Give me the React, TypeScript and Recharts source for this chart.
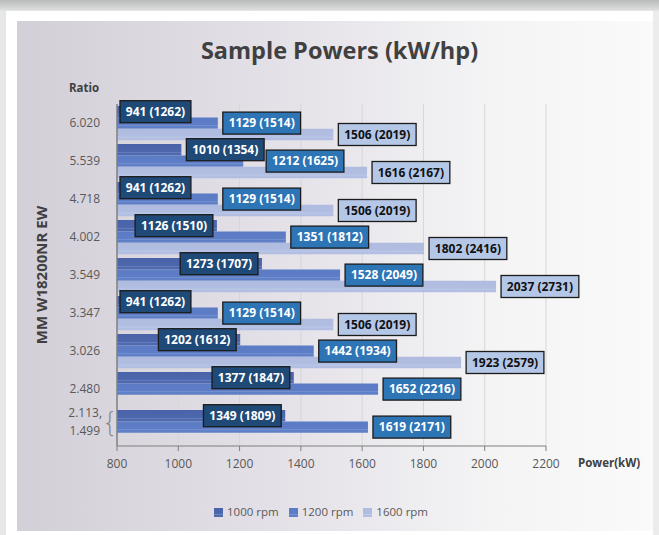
import {
  BarChart,
  Bar,
  XAxis,
  YAxis,
  CartesianGrid,
  Legend,
  LabelList,
  Label,
} from "recharts";

const ratios = ["6.020", "5.539", "4.718", "4.002", "3.549", "3.347", "3.026", "2.480", "2.113, 1.499"];
const kw1000 = [941, 1010, 941, 1126, 1273, 941, 1202, 1377, 1349];
const kw1200 = [1129, 1212, 1129, 1351, 1528, 1129, 1442, 1652, 1619];
const kw1600 = [1506, 1616, 1506, 1802, 2037, 1506, 1923, null, null];
const hp1000 = [1262, 1354, 1262, 1510, 1707, 1262, 1612, 1847, 1809];
const hp1200 = [1514, 1625, 1514, 1812, 2049, 1514, 1934, 2216, 2171];
const hp1600 = [2019, 2167, 2019, 2416, 2731, 2019, 2579, null, null];
const powerTicks = [800, 1000, 1200, 1400, 1600, 1800, 2000, 2200];

const data = ratios.map((r, i) => ({
  ratio: r,
  rpm1000: kw1000[i],
  rpm1200: kw1200[i],
  rpm1600: kw1600[i],
}));

const FONT = "'Open Sans', sans-serif";
const AXIS_MIN = 800;

// rough width of bold 12px Open Sans text
const textWidth = (s: string) => {
  let w = 0;
  for (const c of s) {
    if (c === " ") w += 3.1;
    else if (c === "(" || c === ")") w += 3.9;
    else w += 6.86;
  }
  return w;
};

const boxWidth = (kw: number, hp: number) => textWidth(`${kw} (${hp})`) + 12;

// where the 1000 rpm label box sits: inside the bar end when it fits
const box1000 = (x: number, ppu: number, i: number) => {
  const width = (kw1000[i] - AXIS_MIN) * ppu;
  const w = boxWidth(kw1000[i], hp1000[i]);
  const end = x + width;
  let bx = end + 5;
  if (width >= w + 4) bx = end - w - 4;
  else if (width < 60) bx = x + 3;
  return { bx, w };
};

const makeLabel =
  (series: "1000" | "1200" | "1600", hp: (number | null)[], fill: string, color: string) =>
  (props: any) => {
    const vb = props.viewBox && props.viewBox.width != null ? props.viewBox : props;
    const { x, y, width, height } = vb;
    const { value, index } = props;
    if (value == null || hp[index] == null) return null;
    const ppu = width / (value - AXIS_MIN);
    const text = `${value} (${hp[index]})`;
    const w = boxWidth(value, hp[index] as number);
    let bx = x + width + 5;
    if (series === "1000") {
      bx = box1000(x, ppu, index).bx;
    } else if (series === "1200") {
      const prev = box1000(x, ppu, index);
      if (prev.bx + prev.w + 2 > bx) bx = prev.bx + prev.w + 2;
    }
    const cy = y + height / 2;
    return (
      <g>
        <rect x={bx} y={cy - 11} width={w} height={22} fill={fill} stroke="#1b1b1b" strokeWidth={1.3} />
        <text
          x={bx + w / 2}
          y={cy}
          dy="0.36em"
          textAnchor="middle"
          fill={color}
          fontFamily={FONT}
          fontWeight={700}
          fontSize={12}
        >
          {text}
        </text>
      </g>
    );
  };

const RatioTick = (props: any) => {
  const { x, y, payload } = props;
  const parts = String(payload.value).split(", ");
  const style = { fontFamily: FONT, fontSize: 12, fill: "#595959" };
  if (parts.length > 1) {
    return (
      <g>
        <text x={x + 2} y={y - 14} dy="0.35em" textAnchor="end" {...style}>
          {parts[0]},
        </text>
        <text x={x} y={y + 4} dy="0.35em" textAnchor="end" {...style}>
          {parts[1]}
        </text>
        <text x={x + 10} y={y - 5} dy="0.33em" textAnchor="middle" fontFamily="DejaVu Sans" fontSize={26} fontWeight={200} fill="#8a8a8a">
          {"{"}
        </text>
      </g>
    );
  }
  return (
    <text x={x} y={y} dy="0.35em" textAnchor="end" {...style}>
      {payload.value}
    </text>
  );
};

export default function App() {
  return (
    <div
      style={{
        position: "fixed",
        left: 0,
        top: 0,
        width: 659,
        height: 535,
        overflow: "hidden",
        background: "linear-gradient(#b9bbba 0px, #d9dbda 9px, #e6e7e7 11px)",
      }}
    >
      <div style={{ position: "absolute", left: 6, top: 11, width: 647, height: 524, background: "#ffffff" }} />
      <div style={{ position: "absolute", left: 653, top: 11, width: 6, height: 524, background: "#ececec" }} />
      <div
        style={{
          position: "absolute",
          left: 17,
          top: 21,
          width: 636,
          height: 510,
          background: "linear-gradient(90deg, #d3cfd8 0%, #e3e0e7 40%, #f4f4f5 75%, #fafafa 100%)",
        }}
      />
      <div
        style={{
          position: "absolute",
          left: 0,
          width: 679,
          top: 34,
          textAlign: "center",
          fontFamily: FONT,
          fontWeight: 700,
          fontSize: 23.5,
          color: "#404040",
        }}
      >
        Sample Powers (kW/hp)
      </div>
      <div style={{ position: "absolute", left: 0, top: 0 }}>
        <BarChart
          width={659}
          height={535}
          data={data}
          layout="vertical"
          margin={{ top: 104, right: 113, bottom: 13, left: 37 }}
          barCategoryGap={0}
          barGap={-2}
        >
          <defs>
            <linearGradient id="g1000" x1="0" y1="0" x2="0" y2="1">
              <stop offset="0" stopColor="#4a63a8" />
              <stop offset="0.66" stopColor="#4d67ad" />
              <stop offset="0.72" stopColor="#6a84c4" />
              <stop offset="0.8" stopColor="#5069ae" />
              <stop offset="1" stopColor="#4f69ae" />
            </linearGradient>
            <linearGradient id="g1200" x1="0" y1="0" x2="0" y2="1">
              <stop offset="0" stopColor="#5b7bc4" />
              <stop offset="0.66" stopColor="#5d7dc6" />
              <stop offset="0.72" stopColor="#7792d2" />
              <stop offset="0.8" stopColor="#5f7fc7" />
              <stop offset="1" stopColor="#5f7fc7" />
            </linearGradient>
            <linearGradient id="g1600" x1="0" y1="0" x2="0" y2="1">
              <stop offset="0" stopColor="#afbce0" />
              <stop offset="0.66" stopColor="#b1bee2" />
              <stop offset="0.72" stopColor="#c0cbe9" />
              <stop offset="0.8" stopColor="#b2bfe2" />
              <stop offset="1" stopColor="#b2bfe2" />
            </linearGradient>
          </defs>
          <CartesianGrid horizontal={false} stroke="#d6d6d8" />
          <XAxis
            type="number"
            domain={[800, 2200]}
            ticks={powerTicks}
            allowDataOverflow
            height={56}
            stroke="#7f7f7f"
            tickSize={5}
            tickMargin={8}
            tick={{ fontFamily: FONT, fontSize: 12, fill: "#595959" }}
          >
            <Label
              content={(p: any) => (
                <text
                  x={p.viewBox.x + p.viewBox.width + 32}
                  y={463}
                  dy="0.35em"
                  fontFamily={FONT}
                  fontWeight={700}
                  fontSize={11.5}
                  fill="#404040"
                >
                  Power(kW)
                </text>
              )}
            />
          </XAxis>
          <YAxis
            type="category"
            dataKey="ratio"
            width={80}
            stroke="#7f7f7f"
            strokeWidth={1.5}
            tickLine={false}
            tickSize={0}
            tickMargin={17}
            tick={<RatioTick />}
            interval={0}
          >
            <Label
              content={(p: any) => (
                <g>
                  <text
                    x={84}
                    y={88}
                    dy="0.35em"
                    textAnchor="middle"
                    fontFamily={FONT}
                    fontWeight={700}
                    fontSize={11.5}
                    fill="#404040"
                  >
                    Ratio
                  </text>
                  <text
                    x={42}
                    y={p.viewBox.y + p.viewBox.height / 2}
                    dy="0.35em"
                    textAnchor="middle"
                    transform={`rotate(-90 42 ${p.viewBox.y + p.viewBox.height / 2})`}
                    fontFamily={FONT}
                    fontWeight={700}
                    fontSize={15}
                    fill="#404040"
                  >
                    MM W18200NR EW
                  </text>
                </g>
              )}
            />
          </YAxis>
          <Legend
            verticalAlign="bottom"
            align="left"
            height={20}
            iconType="square"
            iconSize={9}
            wrapperStyle={{ left: 214 }}
            formatter={(v: string) => (
              <span style={{ color: "#595959", fontFamily: FONT, fontSize: 11.5 }}>{v}</span>
            )}
          />
          <Bar dataKey="rpm1000" name="1000 rpm" fill="url(#g1000)" barSize={14} isAnimationActive={false} legendType="square">
            <LabelList dataKey="rpm1000" content={makeLabel("1000", hp1000, "#1f4a78", "#ffffff")} />
          </Bar>
          <Bar dataKey="rpm1200" name="1200 rpm" fill="url(#g1200)" barSize={14} isAnimationActive={false} legendType="square">
            <LabelList dataKey="rpm1200" content={makeLabel("1200", hp1200, "#2e75b6", "#ffffff")} />
          </Bar>
          <Bar dataKey="rpm1600" name="1600 rpm" fill="url(#g1600)" barSize={14} isAnimationActive={false} legendType="square">
            <LabelList dataKey="rpm1600" content={makeLabel("1600", hp1600, "#b4c7e7", "#111111")} />
          </Bar>
        </BarChart>
      </div>
    </div>
  );
}
